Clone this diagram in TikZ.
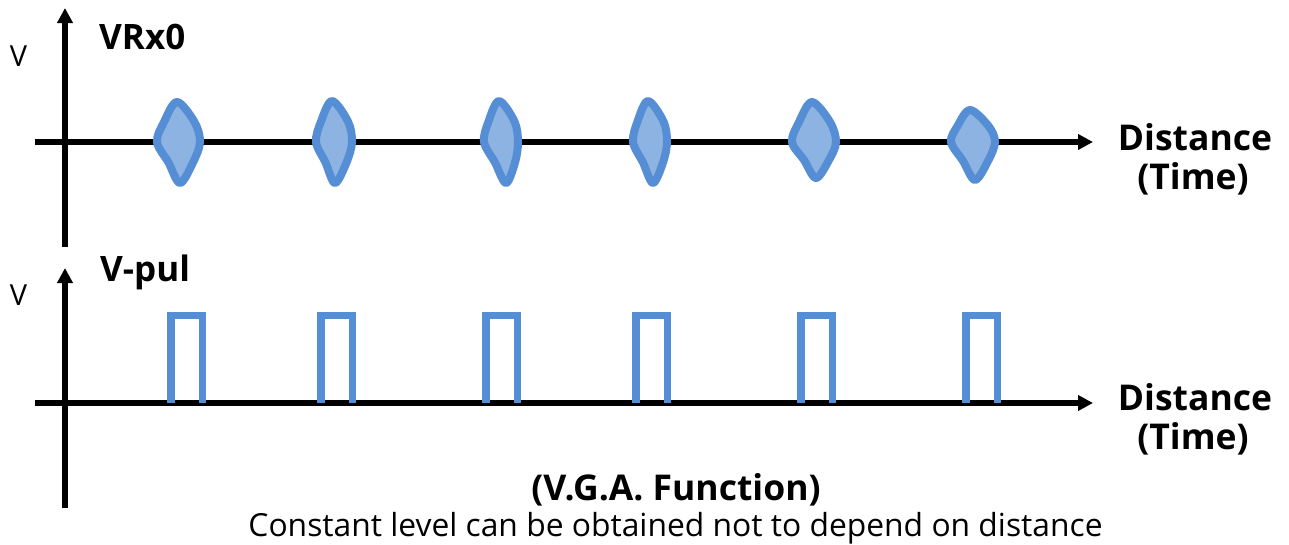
\documentclass[tikz,border=0pt]{standalone}
\usepackage{fontspec}
\setmainfont{Open Sans}
\usetikzlibrary{arrows.meta}
\definecolor{pulseblue}{RGB}{85,142,213}
\definecolor{blipfill}{RGB}{141,179,226}

% one echo blip on the upper axis: left x, right x, top (x,y), bottom (x,y) -- outer extents
\newcommand\echoblip[6]{%
  \pgfmathsetmacro\bl{#1+4}\pgfmathsetmacro\br{#2-4}%
  \pgfmathsetmacro\bt{#4+4}\pgfmathsetmacro\bb{#6-4}%
  \draw[blip] plot[smooth cycle,tension=0.55] coordinates {
    (\bl,142)
    ({(\bl+#3)/2-3},{(142+\bt)/2})
    (#3,\bt)
    ({(#3+\br)/2+6},{(142+\bt)/2})
    (\br,142)
    ({(\br+#5)/2+3},{(142+\bb)/2})
    (#5,\bb)
    ({(\bl+#5)/2},{(142+\bb)/2})
  };}

% one gate pulse on the lower axis: outer left edge
\newcommand\gatepulse[1]{%
  \draw[pulse] ({#1+3.75},403) |- ({#1+20},315.5) -| ({#1+35.25},403);}

\tikzset{
  axis/.style={line width=5.5pt, -{Triangle[length=15pt,width=15pt]}},
  blip/.style={draw=pulseblue, fill=blipfill, line width=8pt, line join=round},
  pulse/.style={draw=pulseblue, line width=7.5pt},
  title/.style={font=\fontsize{35}{40}\selectfont\bfseries, inner sep=0pt},
  vlabel/.style={font=\fontsize{29}{33}\selectfont, inner sep=0pt},
  axlabel/.style={font=\fontsize{35.5}{40}\selectfont\bfseries, inner sep=0pt},
  note/.style={font=\fontsize{31.8}{36}\selectfont, inner sep=0pt},
}

\begin{document}
\begin{tikzpicture}[x=1pt,y=-1pt]
\useasboundingbox (0,0) rectangle (1289,544);

% upper plot axes
\coordinate (ay1b) at (65,247);
\coordinate (ay1t) at (65,8);
\coordinate (ax1l) at (35,142);
\coordinate (ax1r) at (1093,142);
\draw[axis] (ay1b) -- (ay1t);
\draw[axis] (ax1l) -- (ax1r);

% lower plot axes
\coordinate (ay2b) at (65,508);
\coordinate (ay2t) at (65,268);
\coordinate (ax2l) at (35,403);
\coordinate (ax2r) at (1093,403);
\draw[axis] (ay2b) -- (ay2t);
\draw[axis] (ax2l) -- (ax2r);

% received echoes
\echoblip{153}{204}{177}{98}{180}{187}
\echoblip{312}{356}{332}{97}{335}{187}
\echoblip{480}{522}{499}{97}{506}{187}
\echoblip{629}{671}{648}{97}{653}{187}
\echoblip{788}{840}{812}{98}{816}{182}
\echoblip{947}{999}{970}{106}{975}{184}

% gate pulses
\gatepulse{167}
\gatepulse{317}
\gatepulse{482}
\gatepulse{632}
\gatepulse{797}
\gatepulse{962}

% labels
\node[title, anchor=base west] (t1) at (99,49.5) {VRx0};
\node[vlabel, anchor=base] (v1) at (18.5,66) {V};
\node[axlabel, anchor=base] (d1) at (1195,150) {Distance};
\node[axlabel, anchor=base] (tm1) at (1193,189) {(Time)};

\node[title, anchor=base west] (t2) at (100,281.5) {V-pul};
\node[vlabel, anchor=base] (v2) at (18.5,305) {V};
\node[axlabel, anchor=base] (d2) at (1195,410) {Distance};
\node[axlabel, anchor=base] (tm2) at (1193,449) {(Time)};

\node[axlabel, anchor=base] (fn) at (676,500) {(V.G.A. Function)};
\node[note, anchor=base] (nt) at (675.5,536) {Constant level can be obtained not to depend on distance};
\end{tikzpicture}
\end{document}
